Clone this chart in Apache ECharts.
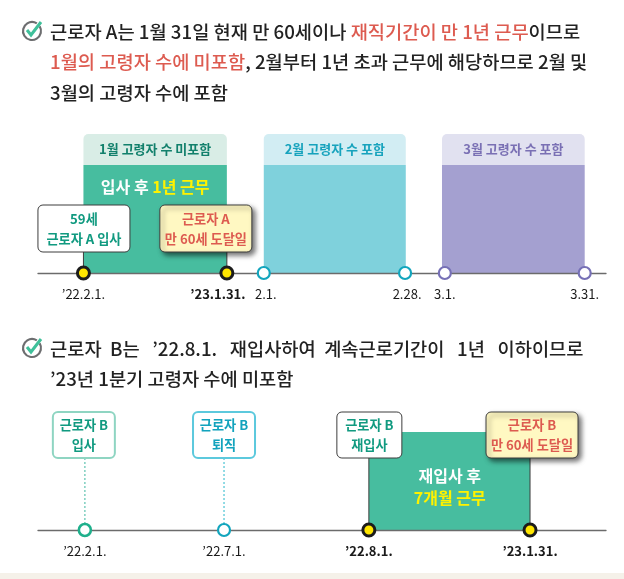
<!DOCTYPE html>
<html><head><meta charset="utf-8">
<style>html,body{margin:0;padding:0;background:#fff}#c{width:624px;height:579px}</style>
<script src="https://cdn.jsdelivr.net/npm/echarts@6/dist/echarts.min.js"></script>
</head><body><div id="c"></div>
<script>
const FONT = '"Noto Sans CJK KR","Noto Sans",sans-serif';
// ---- headings
const headingA = [
  [['근로자 A는 1월 31일 현재 만 60세이나 ','k'],['재직기간이 만 1년 근무','r'],['이므로','k']],
  [['1월의 고령자 수에 미포함','r'],[', 2월부터 1년 초과 근무에 해당하므로 2월 및','k']],
  [['3월의 고령자 수에 포함','k']]
];
const headingB = [
  [['근로자  B는   ’22.8.1.   재입사하여  계속근로기간이   1년   이하이므로','k']],
  [['’23년 1분기 고령자 수에 미포함','k']]
];
// ---- timeline A (schematic position units: one period ≈ 100)
const periodStartA = [32, 159, 284.5];
const periodEndA = [133, 259, 385];
const periodHeadA = ['1월 고령자 수 미포함', '2월 고령자 수 포함', '3월 고령자 수 포함'];
const periodThemeA = ['green', 'teal', 'purple'];
const pointXA = [32, 133, 159, 258.5, 286.5, 385];
const pointDateA = ['’22.2.1.', '’23.1.31.', '2.1.', '2.28.', '3.1.', '3.31.'];
const pointKindA = ['key', 'key', 'teal', 'teal', 'purple', 'purple'];
const calloutXA = [32, 133];
const calloutLinesA = [['59세', '근로자 A 입사'], ['근로자 A', '만 60세 도달일']];
const calloutKindA = ['white', 'yellow'];
// ---- timeline B
const periodStartB = [233];
const periodEndB = [346.5];
const pointXB = [33, 131, 233, 346.5];
const pointDateB = ['’22.2.1.', '’22.7.1.', '’22.8.1.', '’23.1.31.'];
const pointKindB = ['green', 'teal', 'key', 'key'];
const calloutXB = [33, 131, 233, 346.5];
const calloutLinesB = [['근로자 B', '입사'], ['근로자 B', '퇴직'], ['근로자 B', '재입사'], ['근로자 B', '만 60세 도달일']];
const calloutKindB = ['outlineGreen', 'outlineTeal', 'white', 'yellow'];

// ---- styles
const theme = {
  green: { head: '#d9ede6', text: '#12806c', body: '#47bd9f' },
  teal: { head: '#d2edf3', text: '#17a3bd', body: '#7fd1dc' },
  purple: { head: '#e1e1f0', text: '#7a70b4', body: '#a4a0d0' }
};
const mark = {
  key: { color: '#ffe600', borderColor: '#1c1c1c', borderWidth: 3, opacity: 1 },
  teal: { color: '#fff', borderColor: '#12a5bd', borderWidth: 2.2, opacity: 1 },
  purple: { color: '#fff', borderColor: '#7670b6', borderWidth: 2.2, opacity: 1 },
  green: { color: '#fff', borderColor: '#1fb08c', borderWidth: 2.6, opacity: 1 }
};
const box = {
  white: { fill: '#fff', stroke: '#3d3d3d', lw: 1, text: '#119a80', stem: '#3d3d3d' },
  yellow: { fill: '#fff8c2', stroke: '#3d3d3d', lw: 1, text: '#dd5b50', stem: '#3d3d3d', shadow: true },
  outlineGreen: { fill: '#fff', stroke: '#8fd5c2', lw: 2, text: '#119a80', stem: '#7fcfc0', dot: true },
  outlineTeal: { fill: '#fff', stroke: '#5cc9dd', lw: 2, text: '#12a3bd', stem: '#6fd0dc', dot: true }
};

function blockSeries(gi, starts, ends, heads, themes, bodyTop) {
  return {
    type: 'custom', xAxisIndex: gi, yAxisIndex: gi, z: 2, silent: true, clip: false,
    data: starts.map((s, i) => [s, ends[i], i]),
    renderItem(p, api) {
      const i = api.value(2), th = theme[themes[i]];
      const a = api.coord([api.value(0), 100]), b = api.coord([api.value(1), bodyTop]), c = api.coord([api.value(0), 0]);
      return { type: 'group', children: [
        { type: 'rect', shape: { x: a[0], y: a[1], width: b[0] - a[0], height: b[1] - a[1], r: [5, 5, 0, 0] }, style: { fill: th.head } },
        { type: 'rect', shape: { x: a[0], y: b[1], width: b[0] - a[0], height: c[1] - b[1] }, style: { fill: th.body } },
        { type: 'text', style: { text: heads[i], x: (a[0] + b[0]) / 2, y: (a[1] + b[1]) / 2, align: 'center', verticalAlign: 'middle', fill: th.text, font: '700 13px ' + FONT } }
      ] };
    }
  };
}
function plainBlock(gi, starts, ends, top, color) {
  return {
    type: 'custom', xAxisIndex: gi, yAxisIndex: gi, z: 2, silent: true, clip: false,
    data: starts.map((s, i) => [s, ends[i]]),
    renderItem(p, api) {
      const a = api.coord([api.value(0), top]), b = api.coord([api.value(1), 0]);
      return { type: 'rect', shape: { x: a[0], y: a[1], width: b[0] - a[0], height: b[1] - a[1] }, style: { fill: color } };
    }
  };
}
function calloutSeries(gi, xs, lines, kinds, boxW, boxH, boxBottomAbove, offsets) {
  return {
    type: 'custom', xAxisIndex: gi, yAxisIndex: gi, z: 4, silent: true, clip: false,
    data: xs.map((x, i) => [x, 0, i]),
    renderItem(p, api) {
      const i = api.value(2), s = box[kinds[i]], pt = api.coord([api.value(0), 0]);
      const w = boxW[i], cx = pt[0] + offsets[i], bot = pt[1] - boxBottomAbove, top = bot - boxH;
      return { type: 'group', children: [
        { type: 'line', shape: { x1: pt[0], y1: bot, x2: pt[0], y2: pt[1] }, style: { stroke: s.stem, lineWidth: s.dot ? 1.5 : 1, lineDash: s.dot ? [2, 2] : null } },
        { type: 'rect', shape: { x: cx - w / 2, y: top, width: w, height: boxH, r: 5 },
          style: Object.assign({ fill: s.fill, stroke: s.stroke, lineWidth: s.lw }, s.shadow ? { shadowBlur: 5, shadowOffsetX: 3, shadowOffsetY: 3, shadowColor: 'rgba(0,0,0,.55)' } : {}) },
        { type: 'text', style: { text: lines[i].join('\n'), x: cx, y: (top + bot) / 2, align: 'center', verticalAlign: 'middle', fill: s.text, lineHeight: 20, font: '700 13.2px ' + FONT } }
      ] };
    }
  };
}
function pointSeries(gi, xs, dates, kinds, dx) {
  return {
    type: 'scatter', xAxisIndex: gi, yAxisIndex: gi, z: 5, silent: true, clip: false, symbolSize: 12,
    data: xs.map((x, i) => ({
      value: [x, 0], itemStyle: mark[kinds[i]],
      label: { show: true, position: 'bottom', distance: 7, formatter: dates[i], offset: [dx[i], 0],
        color: '#1a1a1a', fontFamily: FONT, fontSize: 13, fontWeight: kinds[i] === 'key' && dates[i] !== '’22.2.1.' || (gi === 1 && kinds[i] === 'key') ? 700 : 400 }
    }))
  };
}
function bodyLabel(gi, x, y, rich, text) {
  return {
    type: 'custom', xAxisIndex: gi, yAxisIndex: gi, z: 3, silent: true, clip: false,
    data: [[x, y]],
    renderItem(p, api) {
      const c = api.coord([api.value(0), api.value(1)]);
      return { type: 'text', style: { text, x: c[0], y: c[1], align: 'center', verticalAlign: 'middle', rich } };
    }
  };
}
const bodyRich = {
  w: { fill: '#fff', font: '700 16px ' + FONT, lineHeight: 22 },
  y: { fill: '#fff200', font: '700 16px ' + FONT, lineHeight: 22 }
};
function heading(lines, ys) {
  return lines.map((ln, i) => ({
    type: 'text', left: 50, top: ys[i] - 8, z: 10,
    style: {
      text: ln.map(([t, c]) => '{' + c + '|' + t + '}').join(''),
      rich: {
        k: { fill: '#222', font: '500 18.7px ' + FONT, lineHeight: 26 },
        r: { fill: '#dd5b50', font: '500 18.7px ' + FONT, lineHeight: 26 }
      }
    }
  }));
}
function checkIcon(cx, cy) {
  return { type: 'group', x: cx, y: cy, z: 10, children: [
    { type: 'arc', shape: { cx: 0, cy: 0, r: 9, startAngle: -0.55, endAngle: -1.0, clockwise: true }, style: { fill: 'none', stroke: '#6d6e70', lineWidth: 2.2 } },
    { type: 'polyline', shape: { points: [[-5, -1], [-1, 4], [9, -9]] }, style: { fill: 'none', stroke: '#3fc09a', lineWidth: 3 } }
  ] };
}
const axis = (gi) => ({ gridIndex: gi, type: 'value', min: 0, max: 400, z: 3, axisTick: { show: false }, axisLabel: { show: false }, splitLine: { show: false },
  axisLine: { onZero: false, lineStyle: { color: '#6b6b6b', width: 1.3 } } });
const yaxis = (gi) => ({ gridIndex: gi, type: 'value', min: 0, max: 100, show: false });

const option = {
  animation: false, backgroundColor: '#fff',
  grid: [
    { left: 38, width: 568, top: 134, height: 139 },
    { left: 38, width: 568, top: 412, height: 118 }
  ],
  xAxis: [axis(0), axis(1)], yAxis: [yaxis(0), yaxis(1)],
  graphic: [
    { type: 'rect', left: 0, top: 573, shape: { width: 624, height: 6 }, style: { fill: '#f5f1e9' } },
    checkIcon(32, 31), checkIcon(32, 348),
    ...heading(headingA, [31, 61, 92]),
    ...heading(headingB, [348, 378])
  ],
  series: [
    blockSeries(0, periodStartA, periodEndA, periodHeadA, periodThemeA, 77.7),
    plainBlock(1, periodStartB, periodEndB, 83, theme.green.body),
    bodyLabel(0, 82.5, 62, bodyRich, '{w|입사 후 }{y|1년 근무}'),
    bodyLabel(1, 290, 36.5, bodyRich, '{w|재입사 후}\n{y|7개월 근무}'),
    calloutSeries(0, calloutXA, calloutLinesA, calloutKindA, [92, 92], 47, 21, [0.5, -21]),
    calloutSeries(1, calloutXB, calloutLinesB, calloutKindB, [62, 62, 65, 92], 46, 72, [-1, 0, 0.5, 2]),
    pointSeries(0, pointXA, pointDateA, pointKindA, [0, -9, 2, 2, 0, 0]),
    pointSeries(1, pointXB, pointDateB, pointKindB, [0, 0, 0, 0])
  ]
};
const chart = echarts.init(document.getElementById('c'), null, { renderer: 'canvas' });
chart.setOption(option);
</script></body></html>
